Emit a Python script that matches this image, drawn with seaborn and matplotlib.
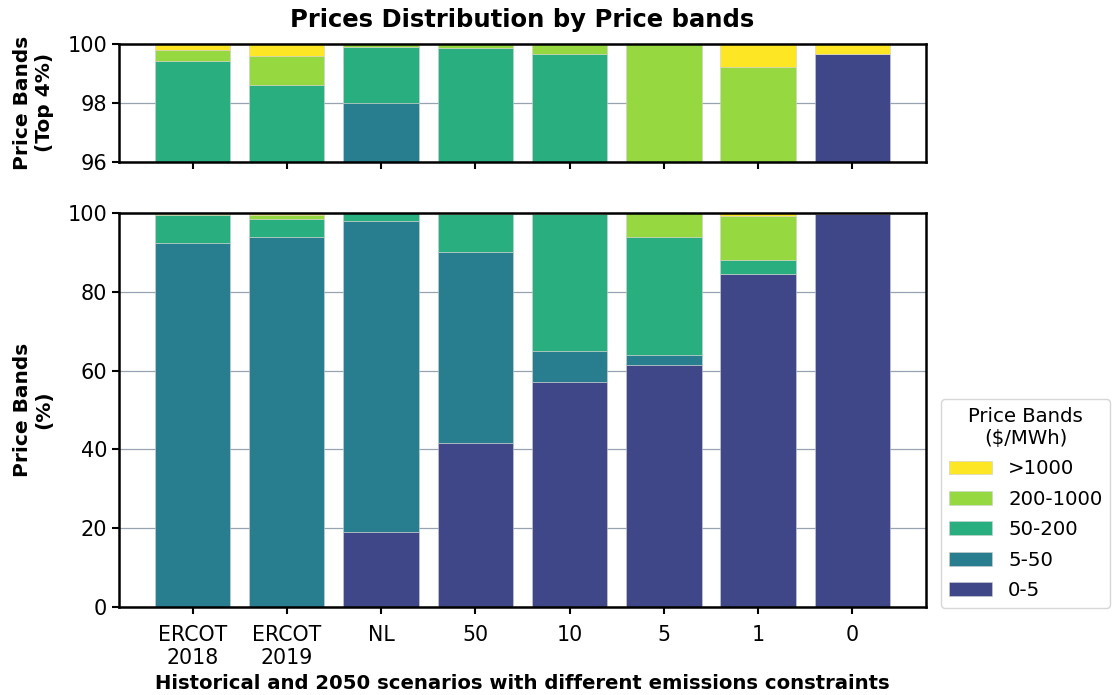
import numpy as np
import pandas as pd
import matplotlib
matplotlib.use('Agg')
import matplotlib.pyplot as plt
import seaborn as sns

scenarios = ['ERCOT\n2018', 'ERCOT\n2019', 'NL', '50', '10', '5', '1', '0']
bands = ['0-5', '5-50', '50-200', '200-1000', '>1000']
colors = ['#3f4788', '#287d8e', '#29af7f', '#95d840', '#fde725']

# share of hours (%) in each price band, per scenario
band_0_5 = [0.0, 0.0, 19.0, 41.6, 57.0, 61.5, 84.6, 99.66]
band_5_50 = [92.5, 93.8, 79.0, 48.6, 8.0, 2.5, 0.0, 0.0]
band_50_200 = [6.92, 4.8, 1.9, 9.67, 34.65, 30.0, 3.4, 0.0]
band_200_1000 = [0.37, 1.0, 0.1, 0.13, 0.35, 6.0, 11.22, 0.0]
band_1000 = [0.21, 0.4, 0.0, 0.0, 0.0, 0.0, 0.78, 0.34]

df = pd.DataFrame({'scenario': scenarios, '0-5': band_0_5, '5-50': band_5_50,
                   '50-200': band_50_200, '200-1000': band_200_1000, '>1000': band_1000})

sns.set_style('whitegrid')
plt.rcParams['font.family'] = ['DejaVu Sans']
plt.rcParams['text.color'] = 'black'
plt.rcParams['axes.labelcolor'] = 'black'
plt.rcParams['xtick.color'] = 'black'
plt.rcParams['ytick.color'] = 'black'

fig = plt.figure(figsize=(11.12, 6.95), dpi=100)
ax_top = fig.add_axes([0.107, 0.767, 0.7257, 0.170])
ax_bot = fig.add_axes([0.107, 0.1266, 0.7257, 0.5669])

for ax in [ax_top, ax_bot]:
    bottom = np.zeros(len(scenarios))
    for band, c in zip(bands, colors):
        sns.barplot(data=df, x='scenario', y=band, bottom=bottom, color=c, ax=ax,
                    width=0.8, edgecolor='#d0d0d0', linewidth=0.4, label=band,
                    saturation=1)
        bottom = bottom + df[band].values
    if ax.get_legend() is not None:
        ax.get_legend().remove()
    ax.set_xlim(-0.78, 7.78)
    ax.grid(axis='x', visible=False)
    ax.grid(axis='y', color='#97a3b0', linewidth=0.9)
    ax.set_axisbelow(True)
    for s in ax.spines.values():
        s.set_color('black')
        s.set_linewidth(1.8)
    ax.tick_params(axis='both', which='both', direction='out', length=5, width=1.5,
                   color='black', labelsize=15, bottom=True, left=True)
    ax.set_xlabel('')

ax_top.set_ylim(96, 100)
ax_top.set_yticks([96, 98, 100])
ax_top.set_xticklabels([])
ax_top.set_ylabel('Price Bands\n(Top 4%)', fontsize=14.5, fontweight='bold', labelpad=10)
ax_top.set_title('Prices Distribution by Price bands', fontsize=17.5, fontweight='bold', pad=12)

ax_bot.set_ylim(0, 100)
ax_bot.set_yticks([0, 20, 40, 60, 80, 100])
ax_bot.set_xticks(range(len(scenarios)))
ax_bot.set_xticklabels(scenarios, fontsize=14.8)
ax_bot.tick_params(axis='x', pad=8)
ax_bot.set_ylabel('Price Bands\n(%)', fontsize=14.5, fontweight='bold', labelpad=10)
ax_bot.set_xlabel('Historical and 2050 scenarios with different emissions constraints',
                  fontsize=14.1, fontweight='bold', labelpad=4)

handles, labels = ax_bot.get_legend_handles_labels()
leg = fig.legend(handles[::-1], labels[::-1], title='Price Bands\n($/MWh)',
                 loc='lower left', bbox_to_anchor=(941 / 1112, 87 / 695),
                 bbox_transform=fig.transFigure, borderaxespad=0, fontsize=14.2,
                 title_fontsize=14.2, frameon=True, handlelength=2.2, labelspacing=0.58)
leg.get_frame().set_edgecolor('#cccccc')
leg.get_title().set_multialignment('center')

fig.savefig('out.png', dpi=100)
